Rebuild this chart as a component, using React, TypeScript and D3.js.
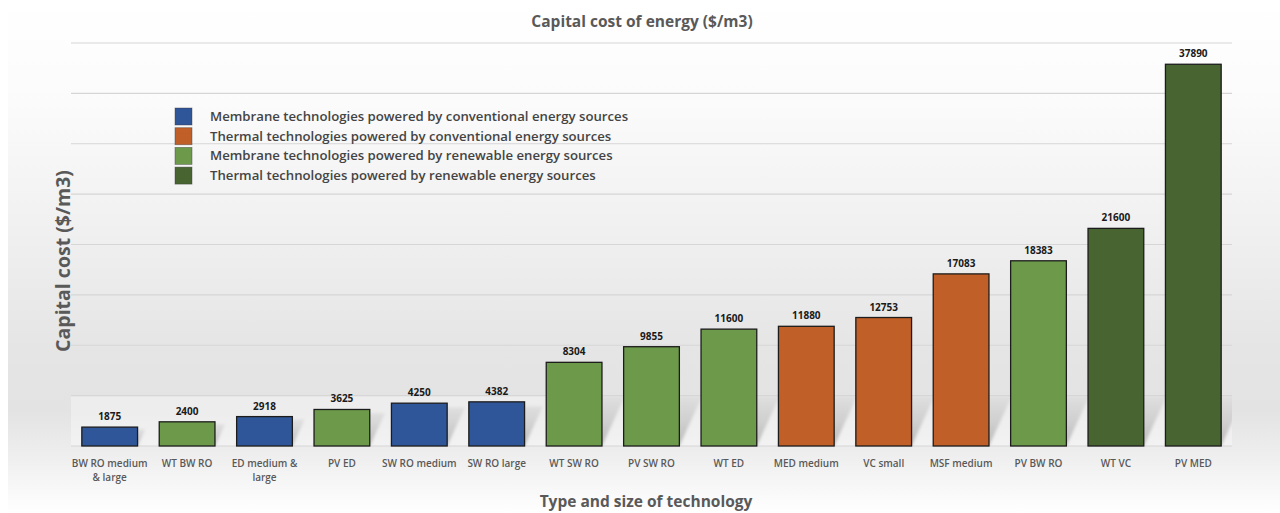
import React from "react";
import * as d3 from "d3";

const categories: string[] = [
  "BW RO medium\n& large",
  "WT BW RO",
  "ED medium &\nlarge",
  "PV ED",
  "SW RO medium",
  "SW RO large",
  "WT SW RO",
  "PV SW RO",
  "WT ED",
  "MED medium",
  "VC small",
  "MSF medium",
  "PV BW RO",
  "WT VC",
  "PV MED",
];
const values: number[] = [1875, 2400, 2918, 3625, 4250, 4382, 8304, 9855, 11600, 11880, 12753, 17083, 18383, 21600, 37890];
const groupOf: number[] = [0, 2, 0, 2, 0, 0, 2, 2, 2, 1, 1, 1, 2, 3, 3];
const legendLabels: string[] = [
  "Membrane technologies powered by conventional energy sources",
  "Thermal technologies powered by conventional energy sources",
  "Membrane technologies powered by renewable energy sources",
  "Thermal technologies powered by renewable energy sources",
];
const groupColors: string[] = ["#30569a", "#c05f27", "#6c9a4a", "#476431"];
const yTicks: number[] = [0, 5000, 10000, 15000, 20000, 25000, 30000, 35000, 40000];

const W = 1280;
const H = 513;
const FONT = "'Open Sans', 'DejaVu Sans', sans-serif";

export default function App() {
  const margin = { left: 71, right: 1232, top: 43, bottom: 446 };
  const x = d3
    .scaleBand<string>()
    .domain(categories)
    .range([margin.left, margin.right])
    .paddingInner(0.28)
    .paddingOuter(0.14);
  const y = d3.scaleLinear().domain([0, 40000]).range([margin.bottom, margin.top]);
  const bw = x.bandwidth();
  const floorH = 50;
  const shadowSlope = 0.46;

  return (
    <svg
      width={W}
      height={H}
      style={{ position: "absolute", left: 0, top: 0, display: "block" }}
      xmlns="http://www.w3.org/2000/svg"
    >
      <defs>
        <linearGradient id="bg" x1="0" y1="0" x2="0" y2="1">
          <stop offset="0" stopColor="#ffffff" />
          <stop offset="0.2" stopColor="#fbfbfb" />
          <stop offset="0.45" stopColor="#f0f0f0" />
          <stop offset="0.68" stopColor="#e5e5e5" />
          <stop offset="0.8" stopColor="#e3e3e3" />
          <stop offset="0.88" stopColor="#ededed" />
          <stop offset="1" stopColor="#ffffff" />
        </linearGradient>
        <linearGradient id="shadow" x1="0" y1="1" x2="0" y2="0">
          <stop offset="0" stopColor="#a8a8a8" stopOpacity="0.75" />
          <stop offset="1" stopColor="#c4c4c4" stopOpacity="0.35" />
        </linearGradient>
        <clipPath id="floorClip">
          <rect x={margin.left} y={margin.bottom - floorH} width={margin.right - margin.left} height={floorH} />
        </clipPath>
        <filter id="blur" x="-20%" y="-20%" width="140%" height="140%">
          <feGaussianBlur stdDeviation="1.5" />
        </filter>
      </defs>
      <rect x={0} y={0} width={W} height={H} fill="#ffffff" />
      <rect x={8} y={0} width={W - 8} height={H} fill="url(#bg)" />
      {/* floor */}
      <rect
        x={margin.left}
        y={margin.bottom - floorH}
        width={margin.right - margin.left}
        height={floorH}
        fill="#ffffff"
        opacity={0.35}
      />

      {/* gridlines */}
      {yTicks.map((t) => (
        <line
          key={t}
          x1={margin.left}
          x2={margin.right}
          y1={y(t)}
          y2={y(t)}
          stroke="#d6d6d6"
          strokeWidth={1.2}
        />
      ))}

      {/* shadows */}
      <g clipPath="url(#floorClip)">
        <g filter="url(#blur)">
          {categories.map((c, i) => {
            const x0 = x(c)!;
            const x1 = x0 + bw;
            const b = y(0);
            const h = Math.min(floorH, (y(0) - y(values[i])) * 0.9);
            const dx = h * shadowSlope;
            const pts = [
              [x0, b],
              [x1, b],
              [x1 + dx, b - h],
              [x0 + dx, b - h],
            ]
              .map((p) => p.join(","))
              .join(" ");
            return <polygon key={c} points={pts} fill="url(#shadow)" />;
          })}
        </g>
      </g>

      {/* bars */}
      {categories.map((c, i) => (
        <rect
          key={c}
          x={x(c)!}
          y={y(values[i])}
          width={bw}
          height={y(0) - y(values[i])}
          fill={groupColors[groupOf[i]]}
          stroke="#1c1c1c"
          strokeWidth={1.3}
        />
      ))}

      {/* value labels */}
      {categories.map((c, i) => (
        <text
          key={c}
          x={x(c)! + bw / 2}
          y={y(values[i]) - 7}
          textAnchor="middle"
          fontFamily={FONT}
          fontWeight={700}
          fontSize={10}
          fill="#1a1a1a"
        >
          {values[i]}
        </text>
      ))}

      {/* category labels */}
      {categories.map((c) => (
        <text
          key={c}
          x={x(c)! + bw / 2}
          y={margin.bottom + 21}
          textAnchor="middle"
          fontFamily={FONT}
          fontWeight={600}
          fontSize={10}
          fill="#595959"
        >
          {c.split("\n").map((line, k) => (
            <tspan key={k} x={x(c)! + bw / 2} dy={k === 0 ? 0 : 14}>
              {line}
            </tspan>
          ))}
        </text>
      ))}

      {/* legend */}
      {legendLabels.map((l, i) => (
        <g key={l} transform={`translate(175, ${108 + i * 19.7})`}>
          <rect x={0} y={0} width={17} height={17} fill={groupColors[i]} stroke="#3a3a3a" strokeOpacity={0.5} strokeWidth={0.8} />
          <text
            x={35}
            y={13}
            fontFamily={FONT}
            fontWeight={600}
            fontSize={13.2}
            fill="#444444"
          >
            {l}
          </text>
        </g>
      ))}

      {/* title */}
      <text
        x={642}
        y={27}
        textAnchor="middle"
        fontFamily={FONT}
        fontWeight={700}
        fontSize={15.5}
        fill="#595959"
      >
        Capital cost of energy ($/m3)
      </text>

      {/* axis titles */}
      <text
        transform={`translate(70, 261) rotate(-90)`}
        textAnchor="middle"
        fontFamily={FONT}
        fontWeight={700}
        fontSize={19.5}
        fill="#595959"
      >
        Capital cost ($/m3)
      </text>
      <text
        x={646}
        y={507}
        textAnchor="middle"
        fontFamily={FONT}
        fontWeight={700}
        fontSize={15.5}
        fill="#595959"
      >
        Type and size of technology
      </text>
    </svg>
  );
}
